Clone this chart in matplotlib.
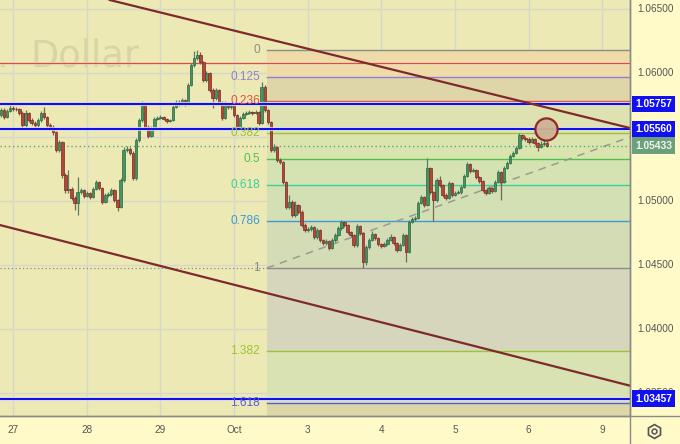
import numpy as np
import matplotlib
matplotlib.use("Agg")
import matplotlib.pyplot as plt
from matplotlib.lines import Line2D
import matplotlib.patheffects as pe

# ---------------- data (hourly candles, EUR/USD) ----------------
first_open = 1.05672
closes = [
    1.05711, 1.05656, 1.05703, 1.05727, 1.05719, 1.05715, 1.05688, 1.05594, 1.05688, 1.05633,
    1.05609, 1.05594, 1.05633, 1.05688, 1.05656, 1.05594, 1.05578, 1.05539, 1.05398, 1.05461,
    1.05203, 1.05086, 1.05094, 1.05023, 1.04984, 1.05070, 1.05086, 1.05039, 1.05063, 1.05031,
    1.05094, 1.05148, 1.05102, 1.04992, 1.05047, 1.05055, 1.05086, 1.05008, 1.04953, 1.05164,
    1.05398, 1.05406, 1.05375, 1.05180, 1.05477, 1.05633, 1.05766, 1.05578, 1.05508, 1.05570,
    1.05641, 1.05648, 1.05656, 1.05641, 1.05625, 1.05633, 1.05734, 1.05773, 1.05758, 1.05789,
    1.05758, 1.05906, 1.06063, 1.06117, 1.06141, 1.06086, 1.05945, 1.06000, 1.05867, 1.05805,
    1.05867, 1.05766, 1.05648, 1.05766, 1.05734, 1.05742, 1.05672, 1.05578, 1.05648, 1.05680,
    1.05688, 1.05695, 1.05688, 1.05695, 1.05609, 1.05891, 1.05711, 1.05617, 1.05398, 1.05422,
    1.05320, 1.05305, 1.05148, 1.04953, 1.04992, 1.04891, 1.04969, 1.04914, 1.04813, 1.04773,
    1.04781, 1.04797, 1.04719, 1.04773, 1.04695, 1.04672, 1.04688, 1.04633, 1.04695, 1.04734,
    1.04789, 1.04836, 1.04813, 1.04758, 1.04734, 1.04656, 1.04805, 1.04750, 1.04523, 1.04641,
    1.04695, 1.04742, 1.04711, 1.04664, 1.04648, 1.04664, 1.04695, 1.04719, 1.04672, 1.04617,
    1.04656, 1.04734, 1.04602, 1.04836, 1.04859, 1.04867, 1.04984, 1.05031, 1.04969, 1.05258,
    1.05070, 1.05008, 1.05164, 1.05125, 1.05047, 1.05023, 1.05141, 1.05047, 1.05063, 1.05070,
    1.05109, 1.05195, 1.05289, 1.05234, 1.05242, 1.05188, 1.05156, 1.05086, 1.05063, 1.05102,
    1.05078, 1.05148, 1.05227, 1.05148, 1.05258, 1.05297, 1.05352, 1.05375, 1.05414, 1.05516,
    1.05492, 1.05484, 1.05461, 1.05484, 1.05453, 1.05422, 1.05445, 1.05453, 1.05433,
]
highs = [
    1.05727, 1.05727, 1.05719, 1.05750, 1.05742, 1.05734, 1.05727, 1.05703, 1.05711, 1.05695,
    1.05648, 1.05625, 1.05648, 1.05703, 1.05734, 1.05664, 1.05609, 1.05594, 1.05547, 1.05477,
    1.05469, 1.05219, 1.05242, 1.05109, 1.05039, 1.05188, 1.05102, 1.05094, 1.05078, 1.05070,
    1.05109, 1.05164, 1.05156, 1.05109, 1.05063, 1.05070, 1.05102, 1.05094, 1.05016, 1.05180,
    1.05422, 1.05430, 1.05422, 1.05391, 1.05492, 1.05648, 1.05781, 1.05773, 1.05594, 1.05586,
    1.05656, 1.05664, 1.05672, 1.05664, 1.05648, 1.05641, 1.05750, 1.05789, 1.05789, 1.05805,
    1.05797, 1.05922, 1.06078, 1.06172, 1.06180, 1.06164, 1.06094, 1.06016, 1.06008, 1.05883,
    1.05883, 1.05875, 1.05781, 1.05781, 1.05773, 1.05758, 1.05750, 1.05680, 1.05664, 1.05695,
    1.05703, 1.05711, 1.05703, 1.05711, 1.05703, 1.05930, 1.05906, 1.05719, 1.05625, 1.05445,
    1.05430, 1.05336, 1.05313, 1.05156, 1.05047, 1.05008, 1.05000, 1.04977, 1.04930, 1.04828,
    1.04797, 1.04813, 1.04805, 1.04789, 1.04781, 1.04703, 1.04703, 1.04695, 1.04711, 1.04750,
    1.04805, 1.04852, 1.04844, 1.04820, 1.04766, 1.04742, 1.04820, 1.04813, 1.04758, 1.04656,
    1.04711, 1.04766, 1.04750, 1.04719, 1.04672, 1.04680, 1.04711, 1.04742, 1.04727, 1.04680,
    1.04672, 1.04750, 1.04742, 1.04852, 1.04875, 1.04883, 1.05000, 1.05047, 1.05039, 1.05336,
    1.05266, 1.05078, 1.05180, 1.05195, 1.05133, 1.05063, 1.05156, 1.05148, 1.05078, 1.05086,
    1.05125, 1.05211, 1.05305, 1.05297, 1.05258, 1.05250, 1.05195, 1.05164, 1.05094, 1.05117,
    1.05109, 1.05164, 1.05242, 1.05234, 1.05273, 1.05313, 1.05367, 1.05391, 1.05430, 1.05531,
    1.05523, 1.05508, 1.05500, 1.05500, 1.05492, 1.05461, 1.05469, 1.05477, 1.05469,
]
lows = [
    1.05656, 1.05641, 1.05648, 1.05695, 1.05703, 1.05703, 1.05672, 1.05570, 1.05578, 1.05617,
    1.05594, 1.05570, 1.05578, 1.05617, 1.05641, 1.05578, 1.05555, 1.05516, 1.05383, 1.05383,
    1.05180, 1.05063, 1.05063, 1.05008, 1.04930, 1.04891, 1.05055, 1.05023, 1.05031, 1.05016,
    1.05023, 1.05086, 1.05086, 1.04977, 1.04984, 1.05031, 1.05039, 1.04992, 1.04922, 1.04945,
    1.05148, 1.05383, 1.05359, 1.05164, 1.05164, 1.05461, 1.05617, 1.05563, 1.05492, 1.05500,
    1.05555, 1.05633, 1.05641, 1.05633, 1.05609, 1.05617, 1.05625, 1.05727, 1.05742, 1.05750,
    1.05742, 1.05750, 1.05898, 1.06047, 1.06102, 1.06070, 1.05930, 1.05930, 1.05852, 1.05727,
    1.05789, 1.05750, 1.05633, 1.05641, 1.05719, 1.05719, 1.05656, 1.05563, 1.05570, 1.05641,
    1.05672, 1.05680, 1.05672, 1.05680, 1.05594, 1.05602, 1.05695, 1.05602, 1.05383, 1.05383,
    1.05305, 1.05289, 1.05133, 1.04938, 1.04938, 1.04875, 1.04875, 1.04898, 1.04797, 1.04758,
    1.04758, 1.04766, 1.04703, 1.04703, 1.04680, 1.04656, 1.04656, 1.04617, 1.04625, 1.04680,
    1.04727, 1.04773, 1.04797, 1.04742, 1.04719, 1.04641, 1.04641, 1.04734, 1.04477, 1.04500,
    1.04625, 1.04688, 1.04695, 1.04648, 1.04633, 1.04641, 1.04656, 1.04688, 1.04656, 1.04602,
    1.04609, 1.04648, 1.04523, 1.04594, 1.04828, 1.04844, 1.04859, 1.04977, 1.04953, 1.04961,
    1.05055, 1.04844, 1.04992, 1.05109, 1.05031, 1.05008, 1.05016, 1.05031, 1.05039, 1.05055,
    1.05055, 1.05102, 1.05188, 1.05219, 1.05227, 1.05172, 1.05141, 1.05070, 1.05047, 1.05055,
    1.05063, 1.05070, 1.05141, 1.05008, 1.05141, 1.05250, 1.05289, 1.05344, 1.05367, 1.05406,
    1.05477, 1.05469, 1.05445, 1.05453, 1.05438, 1.05391, 1.05414, 1.05430, 1.05422,
]

day_labels = ["27", "28", "29", "Oct", "3", "4", "5", "6", "9"]
price_ticks = [1.065, 1.060, 1.050, 1.045, 1.040, 1.035]

# drawings
hlines_blue = [1.05757, 1.05560, 1.03457]
hline_red = 1.06078
last_price = 1.05433
fib_high = 1.06180
fib_low = 1.04477
fib_start = 86.7          # candle index where the retracement tool starts
fib_levels = [0, 0.125, 0.236, 0.382, 0.5, 0.618, 0.786, 1, 1.382, 1.618, 2.618]
trend_upper = [(35.5, 1.06570), (205.1, 1.05570)]
trend_lower = [(-0.33, 1.04812), (205.1, 1.03557)]
dash_trend = [(86.7, 1.04477), (205.1, 1.05500)]
circle_mark = (177.7, 1.05560)
watermark_parts = ["Euro / U.S.", "Dollar"]

# ---------------- styling ----------------
W, H = 680, 444
plot_w, plot_h = 630, 416
BG = "#ECE9B4"
AX_BG = "#FFFAC8"
fib_line_colors = ["#8c8c8c", "#8f80d6", "#e0503c", "#9cc435", "#4cc24c", "#3ccf9b",
                   "#3d9ad6", "#8c8c8c", "#9cc435", "#5560d8", "#e0503c"]
band_colors = ["#EEDBA8", "#DED6A9", "#DEE2B1", "#DAE4AF", "#D5E3B2", "#D2E0B4",
               "#D4DCB6", "#D5D6BC", "#D8E2B2", "#DDD7A8"]

fig = plt.figure(figsize=(W / 100, H / 100), dpi=100, facecolor=AX_BG)
ax = fig.add_axes([0, (H - plot_h) / H, plot_w / W, plot_h / H])
ax.set_facecolor(BG)

x_left, x_right = -0.326, 205.09
y_top = 1.05 + 201 / 12800
y_bot = 1.05 - 215 / 12800
ax.set_xlim(x_left, x_right)
ax.set_ylim(y_bot, y_top)

# grid
day_pos = [4 + 24 * k for k in range(len(day_labels))]
for xp in day_pos:
    ax.axvline(xp, color="#D3D7CD", lw=0.9, zorder=0.5)
for yp in price_ticks + [1.055]:
    ax.axhline(yp, color="#D3D7CD", lw=0.9, zorder=0.5)

# watermark (symbol description, cut at the left edge)
ax.text(8 / 3.067, 1.06047, watermark_parts[0], ha="right", va="baseline", fontsize=26.5,
        color="#D8D4A6", zorder=0.6, clip_on=True, family="DejaVu Sans")
ax.text(29 / 3.067, 1.06047, watermark_parts[1], ha="left", va="baseline", fontsize=26.5,
        color="#D8D4A6", zorder=0.6, clip_on=True, family="DejaVu Sans")

# fibonacci retracement
rng = fib_high - fib_low
fib_prices = [fib_high - lv * rng for lv in fib_levels]
for k in range(len(fib_levels) - 1):
    ax.fill_between([fib_start, x_right + 5], fib_prices[k + 1], fib_prices[k],
                    color=band_colors[k], lw=0, zorder=1)
for k, lv in enumerate(fib_levels[:-1]):
    ax.plot([fib_start, x_right + 5], [fib_prices[k]] * 2, color=fib_line_colors[k],
            lw=1.0, zorder=2)
    lab = ("%g" % lv)
    ax.annotate(lab, (fib_start, fib_prices[k]), xytext=(-5, 0), textcoords="offset points",
                ha="right", va="center", fontsize=8.6, color=fib_line_colors[k],
                family="Liberation Sans", zorder=6.5, annotation_clip=True)

# dotted extension of level 1 to the left
ax.plot([x_left, fib_start], [fib_low, fib_low], color="#8c8c8c", lw=0.9,
        ls=(0, (1, 2)), zorder=2)
# dashed trend
ax.plot([p[0] for p in dash_trend], [p[1] for p in dash_trend], color="#9a9a92",
        lw=1.1, ls=(0, (5, 4)), zorder=2.5)

# red horizontal line
ax.axhline(hline_red, color="#d9503e", lw=1.0, zorder=2.6,
           path_effects=[pe.Stroke(linewidth=2.4, foreground="#f6f3df", alpha=0.6), pe.Normal()])

# last price dotted line
ax.axhline(last_price, color="#5fa577", lw=1.0, ls=(0, (1, 2)), zorder=2.6)

# candles
n = len(closes)
xs = np.arange(n)
c = np.array(closes)
o = np.array([first_open] + closes[:-1])
h = np.array(highs)
l = np.array(lows)
up = c >= o
lo_body = np.minimum(o, c)
hb = np.maximum(np.abs(c - o), 0.00003)
ax.vlines(xs[up], l[up], h[up], colors="#56806a", lw=0.9, zorder=4)
ax.vlines(xs[~up], l[~up], h[~up], colors="#7a6456", lw=0.9, zorder=4)
ax.bar(xs[up], hb[up], bottom=lo_body[up], width=0.8, color="#459462",
       edgecolor="#2c6842", lw=0.5, zorder=5)
ax.bar(xs[~up], hb[~up], bottom=lo_body[~up], width=0.8, color="#b3473a",
       edgecolor="#7a2a22", lw=0.5, zorder=5)

# blue horizontal lines
for yb in hlines_blue:
    ax.axhline(yb, color="#1010ee", lw=1.6, zorder=6,
               path_effects=[pe.Stroke(linewidth=3.0, foreground="#f6f4e2", alpha=0.8), pe.Normal()])

# trend channel lines
for seg in (trend_upper, trend_lower):
    ax.axline(seg[0], seg[1], color="#7e2a2c", lw=1.6, zorder=7)

# circle marker
ax.plot([circle_mark[0]], [circle_mark[1]], marker="o", ms=16, mfc="#CDB294",
        mec="#8e1f22", mew=1.6, zorder=8, alpha=0.95)

# spines
for s in ("top", "left"):
    ax.spines[s].set_visible(False)
for s in ("right", "bottom"):
    ax.spines[s].set_color("#8a8a84")
    ax.spines[s].set_linewidth(1.0)
ax.set_xticks([])
ax.set_yticks([])
fig.add_artist(Line2D([plot_w / W, plot_w / W], [0, 1], color="#8a8a84", lw=1.0))
fig.add_artist(Line2D([0, 1], [(H - plot_h) / H] * 2, color="#8a8a84", lw=1.0))

# price axis labels
ytr = ax.get_yaxis_transform()
for yp in price_ticks:
    ax.text(1 + 7 / plot_w, yp, "%.5f" % yp, transform=ytr, ha="left", va="center",
            fontsize=7.2, color="#555555", family="Liberation Sans", clip_on=False, zorder=9)
for yb in hlines_blue:
    ax.text(1 + 5 / plot_w, yb, "%.5f" % yb, transform=ytr, ha="left", va="center",
            fontsize=7.4, color="white", fontweight="bold", family="Liberation Sans",
            clip_on=False, zorder=10,
            bbox=dict(boxstyle="square,pad=0.32", fc="#1010f0", ec="none"))
ax.text(1 + 5 / plot_w, last_price, "%.5f" % last_price, transform=ytr, ha="left",
        va="center", fontsize=7.4, color="#eef6ee", fontweight="bold", family="Liberation Sans",
        clip_on=False, zorder=10,
        bbox=dict(boxstyle="square,pad=0.32", fc="#6c9f7b", ec="none"))

# time axis labels
xtr = ax.get_xaxis_transform()
for xp, lab in zip(day_pos, day_labels):
    ax.text(xp, -14 / plot_h, lab, transform=xtr, ha="center", va="center", fontsize=7.2,
            color="#555555", family="Liberation Sans", clip_on=False)

# settings icon
gx, gy = 654 / W, (H - 431) / H
fig.add_artist(Line2D([gx], [gy], marker="h", ms=10, mfc="none", mec="#555555", mew=1.2))
fig.add_artist(Line2D([gx], [gy], marker="o", ms=3.5, mfc="none", mec="#555555", mew=1.1))

fig.savefig("out.png", dpi=100, facecolor=AX_BG)
